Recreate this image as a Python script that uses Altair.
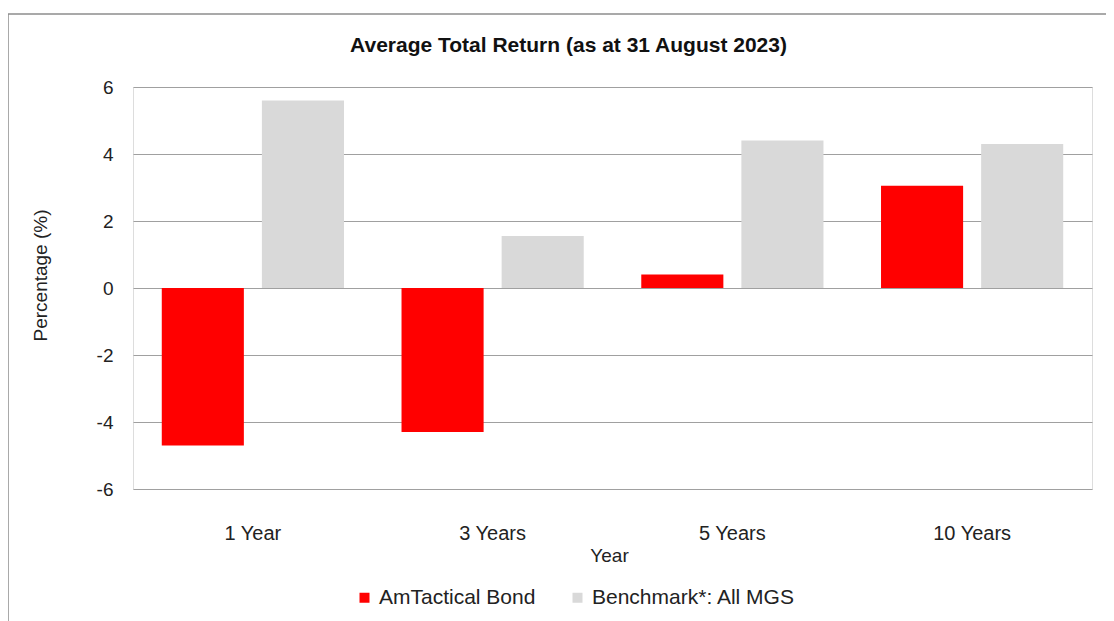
import altair as alt
import pandas as pd

categories = ["1 Year", "3 Years", "5 Years", "10 Years"]
series_names = ["AmTactical Bond", "Benchmark*: All MGS"]
fund_values = [-4.7, -4.3, 0.4, 3.05]
bench_values = [5.6, 1.55, 4.4, 4.3]
y_ticks = [-6, -4, -2, 0, 2, 4, 6]
colors = ["#ff0000", "#d9d9d9"]

rows = []
for c, f, b in zip(categories, fund_values, bench_values):
    rows.append({"cat": c, "series": series_names[0], "value": f})
    rows.append({"cat": c, "series": series_names[1], "value": b})
df = pd.DataFrame(rows)

FONT = "Liberation Sans"
W, H = 959, 402

bars = alt.Chart(df).mark_bar(stroke=None).encode(
    x=alt.X("cat:N", sort=categories,
            scale=alt.Scale(paddingInner=0.24, paddingOuter=0.12),
            axis=alt.Axis(title="Year", labelAngle=0, ticks=False, tickSize=0,
                          domain=False, labelPadding=34, labelFontSize=20,
                          labelFont=FONT, labelColor="#222222",
                          titleFont=FONT, titleFontSize=19, titleFontWeight="normal",
                          titleColor="#222222", titleBaseline="middle",
                          titleY=66, titleX=476)),
    xOffset=alt.XOffset("series:N", sort=series_names,
                        scale=alt.Scale(paddingInner=0.18, paddingOuter=0)),
    y=alt.Y("value:Q",
            scale=alt.Scale(domain=[-6, 6], nice=False, zero=False),
            axis=alt.Axis(title="Percentage (%)", values=y_ticks, ticks=False,
                          tickSize=0, domain=False, labelPadding=20,
                          labelExpr="'' + datum.value",
                          labelFontSize=19, labelFont=FONT, labelColor="#222222",
                          grid=True, gridColor="#a0a0a0", gridWidth=1.2,
                          titleFont=FONT, titleFontSize=19, titleFontWeight="normal",
                          titleColor="#222222", titleBaseline="middle",
                          titleAlign="center", titleAngle=-90,
                          titleX=-93, titleY=188)),
    color=alt.Color("series:N", sort=series_names,
                    scale=alt.Scale(domain=series_names, range=colors),
                    legend=alt.Legend(title=None, orient="none", direction="horizontal",
                                      legendX=221, legendY=500,
                                      symbolType="square", symbolSize=100,
                                      symbolStrokeWidth=0, labelFont=FONT,
                                      labelFontSize=21, labelColor="#222222",
                                      labelLimit=500,
                                      columnPadding=31, labelOffset=4, padding=0)),
)

frame_df = pd.DataFrame({"k": [0]})
left_line = alt.Chart(frame_df).mark_rule(color="#8c8c8c", strokeWidth=1.5).encode(
    x=alt.value(-125), y=alt.value(-73), y2=alt.value(534))
top_line = alt.Chart(frame_df).mark_rule(color="#8c8c8c", strokeWidth=1.5).encode(
    x=alt.value(-125), x2=alt.value(973), y=alt.value(-73))

chart = alt.layer(bars, left_line, top_line).properties(
    width=W, height=H,
    title=alt.TitleParams("Average Total Return (as at 31 August 2023)",
                          font=FONT, fontSize=21, fontWeight="bold",
                          color="#111111", anchor="middle", dx=-44, dy=43, offset=0),
    autosize=alt.AutoSizeParams(type="none"),
    padding={"left": 125, "top": 79, "right": 14, "bottom": 132},
).configure_view(stroke=None).configure(background="white")

chart.save("out.html", embed_options={"renderer": "svg", "actions": False})
